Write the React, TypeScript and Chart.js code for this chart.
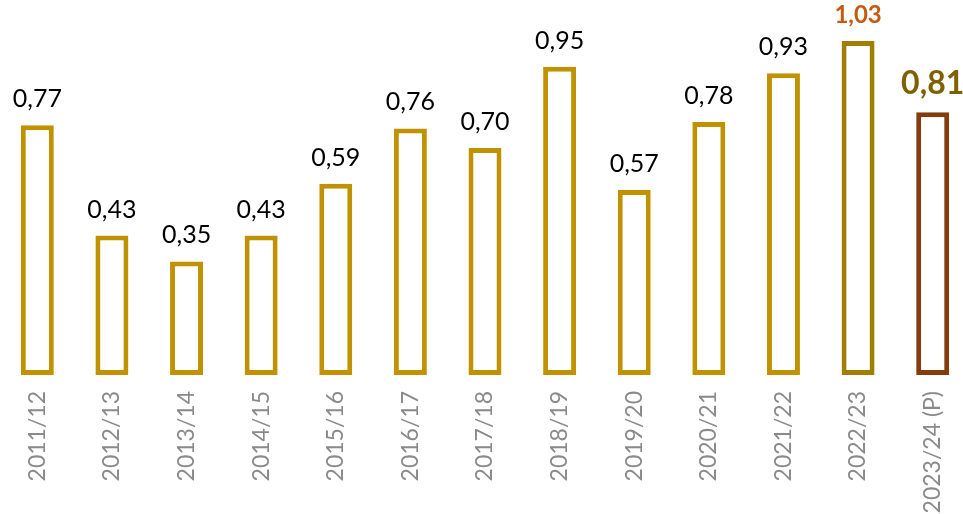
import React, { useEffect, useRef } from "react";
import { Chart, registerables } from "chart.js";

Chart.register(...registerables);

const categories = [
  "2011/12", "2012/13", "2013/14", "2014/15", "2015/16", "2016/17", "2017/18",
  "2018/19", "2019/20", "2020/21", "2021/22", "2022/23", "2023/24 (P)",
];
const values = [0.77, 0.43, 0.35, 0.43, 0.59, 0.76, 0.70, 0.95, 0.57, 0.78, 0.93, 1.03, 0.81];

const GOLD = "#C09200";
const barBorderColors = [
  GOLD, GOLD, GOLD, GOLD, GOLD, GOLD, GOLD, GOLD, GOLD, GOLD, GOLD, "#A27E00", "#843C0C",
];
const labelColors = [
  "#000", "#000", "#000", "#000", "#000", "#000", "#000", "#000", "#000", "#000", "#000",
  "#C55A11", "#7F6000",
];
const REG = "25px Lato";
const labelFonts = [
  REG, REG, REG, REG, REG, REG, REG, REG, REG, REG, REG, "bold 24px Lato", "bold 32px Lato",
];

const fmt = (v: number) => v.toFixed(2).replace(".", ",");

const valueLabelPlugin = {
  id: "valueLabels",
  afterDatasetsDraw(chart: any) {
    const ctx = chart.ctx;
    const meta = chart.getDatasetMeta(0);
    ctx.save();
    ctx.textAlign = "center";
    ctx.textBaseline = "alphabetic";
    meta.data.forEach((bar: any, i: number) => {
      ctx.font = labelFonts[i];
      ctx.fillStyle = labelColors[i];
      ctx.fillText(fmt(values[i]), bar.x, bar.y - 18);
    });
    ctx.restore();
  },
};

export default function App() {
  const ref = useRef<HTMLCanvasElement>(null);
  useEffect(() => {
    if (!ref.current) return;
    const chart = new Chart(ref.current, {
      type: "bar",
      data: {
        labels: categories,
        datasets: [
          {
            data: values,
            backgroundColor: "#ffffff",
            borderColor: barBorderColors,
            borderWidth: 5,
            borderSkipped: false,
            categoryPercentage: 1,
            barPercentage: 0.442,
          },
        ],
      },
      options: {
        responsive: false,
        animation: false,
        layout: { padding: { top: 2, left: 0, right: 0, bottom: 0 } },
        plugins: { legend: { display: false }, tooltip: { enabled: false } },
        scales: {
          x: {
            grid: { display: false, drawTicks: false },
            border: { display: false },
            ticks: {
              minRotation: 90,
              maxRotation: 90,
              padding: 16,
              color: "#8A8A8A",
              font: { family: "Lato", size: 23 },
            },
            afterFit: (scale: any) => {
              scale.height = 139;
              scale.paddingLeft = 0;
              scale.paddingRight = 0;
            },
          },
          y: {
            display: false,
            min: 0,
            max: 1.15,
          },
        },
      },
      plugins: [valueLabelPlugin],
    });
    return () => chart.destroy();
  }, []);
  return (
    <div
      style={{
        position: "fixed",
        left: 0,
        top: 0,
        width: 963,
        height: 514,
        overflow: "hidden",
        background: "#fff",
      }}
    >
      <canvas ref={ref} width={970} height={514} style={{ width: 970, height: 514, display: "block" }} />
    </div>
  );
}
